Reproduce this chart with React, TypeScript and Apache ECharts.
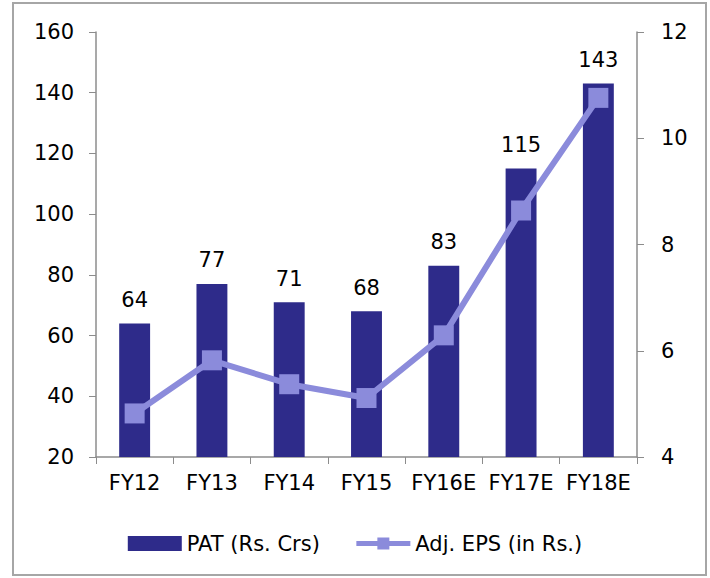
import React, { useEffect, useRef } from "react";
import * as echarts from "echarts";

const years = ["FY12", "FY13", "FY14", "FY15", "FY16E", "FY17E", "FY18E"];
const pat = [64, 77, 71, 68, 83, 115, 143];
const eps = [4.82, 5.82, 5.37, 5.11, 6.29, 8.64, 10.76];

const BAR = "#2E2B8A";
const LINE = "#8B8BDB";
const AXIS = "#8C8C8C";
const FONT = "'DejaVu Sans', 'Noto Sans', sans-serif";
const FS = 21;

export default function App() {
  const ref = useRef<HTMLDivElement>(null);
  useEffect(() => {
    const chart = echarts.init(ref.current!, null, { renderer: "svg" });
    chart.setOption({
      animation: false,
      backgroundColor: "#fff",
      textStyle: { fontFamily: FONT, color: "#000" },
      grid: { left: 96, right: 73, top: 32, bottom: 121 },
      graphic: [
        {
          type: "rect",
          shape: { x: 13, y: 3, width: 693, height: 572 },
          style: { fill: "none", stroke: "#A6A6A6", lineWidth: 2 },
          silent: true,
        },
      ],
      legend: {
        top: 528,
        left: "center",
        itemGap: 34,
        itemWidth: 54,
        itemHeight: 15,
        textStyle: { fontSize: FS, color: "#000", fontFamily: FONT },
        lineStyle: { width: 5 },
        data: [
          { name: "PAT (Rs. Crs)", icon: "rect" },
          { name: "Adj. EPS (in Rs.)", lineStyle: { width: 5, color: LINE } },
        ],
      },
      xAxis: {
        type: "category",
        data: years,
        axisLine: { lineStyle: { color: AXIS, width: 1.5 } },
        axisTick: { show: true, length: 7, lineStyle: { color: AXIS } },
        axisLabel: { fontSize: FS, color: "#000", margin: 15, interval: 0 },
      },
      yAxis: [
        {
          type: "value",
          min: 20,
          max: 160,
          interval: 20,
          splitLine: { show: false },
          axisLine: { show: true, lineStyle: { color: AXIS, width: 1.5 } },
          axisTick: { show: true, length: 7, lineStyle: { color: AXIS } },
          axisLabel: { fontSize: FS, color: "#000", margin: 22 },
        },
        {
          type: "value",
          min: 4,
          max: 12,
          interval: 2,
          position: "right",
          splitLine: { show: false },
          axisLine: { show: true, lineStyle: { color: AXIS, width: 1.5 } },
          axisTick: { show: true, length: 7, lineStyle: { color: AXIS } },
          axisLabel: { fontSize: FS, color: "#000", margin: 24 },
        },
      ],
      series: [
        {
          name: "PAT (Rs. Crs)",
          type: "bar",
          data: pat,
          barWidth: "40%",
          itemStyle: { color: BAR },
          label: {
            show: true,
            position: "top",
            distance: 13,
            fontSize: FS,
            color: "#000",
            fontFamily: FONT,
          },
        },
        {
          name: "Adj. EPS (in Rs.)",
          type: "line",
          yAxisIndex: 1,
          data: eps,
          symbol: "rect",
          symbolSize: 20,
          lineStyle: { color: LINE, width: 6 },
          itemStyle: { color: LINE },
        },
      ],
    });
    return () => chart.dispose();
  }, []);

  return (
    <div
      ref={ref}
      style={{ position: "absolute", left: 0, top: 0, width: 710, height: 578 }}
    />
  );
}
